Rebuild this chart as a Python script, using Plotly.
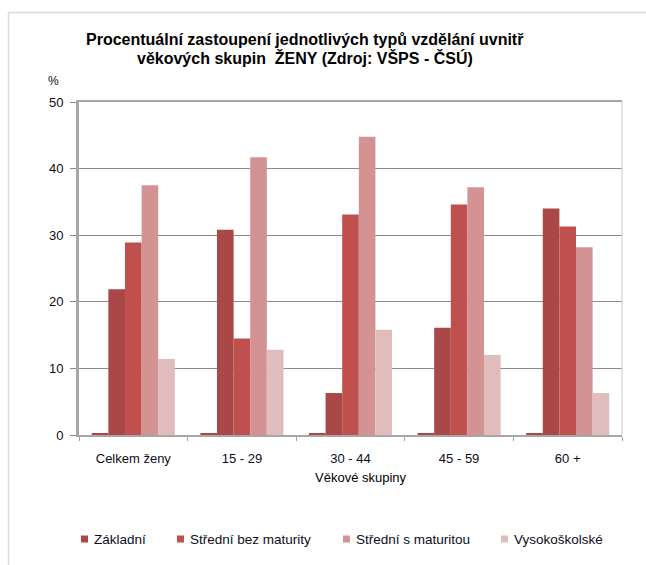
import plotly.graph_objects as go

# Age groups and the share (%) of each education level within them
categories = ["Celkem ženy", "15 - 29", "30 - 44", "45 - 59", "60 +"]
bez_vzdelani = [0.2, 0.3, 0.2, 0.2, 0.2]
zakladni = [21.9, 30.8, 6.3, 16.1, 34.0]
stredni_bez_maturity = [28.9, 14.5, 33.1, 34.6, 31.3]
stredni_s_maturitou = [37.5, 41.7, 44.8, 37.2, 28.2]
vysokoskolske = [11.4, 12.8, 15.8, 12.0, 6.3]

y_ticks = [0, 10, 20, 30, 40, 50]

title_lines = [
    "Procentuální zastoupení jednotlivých typů vzdělání uvnitř",
    "věkových skupin  ŽENY (Zdroj: VŠPS - ČSÚ)",
]

series = [
    ("Bez vzdělání", bez_vzdelani, "#A94846", False),
    ("Základní", zakladni, "#A94846", True),
    ("Střední bez maturity", stredni_bez_maturity, "#C0504D", True),
    ("Střední s maturitou", stredni_s_maturitou, "#D39392", True),
    ("Vysokoškolské", vysokoskolske, "#E0BCBC", True),
]

W, H = 646, 565
L, R, T, B = 79, 24, 102, 130
PW, PH = W - L - R, H - T - B
FONT = "Liberation Sans, Arial, sans-serif"
TXT = "#0d0d1a"


def px_x(x):
    return (x - L) / PW


def px_y(y):
    return (H - B - y) / PH


fig = go.Figure()
for name, vals, color, _ in series:
    fig.add_trace(go.Bar(
        name=name, x=categories, y=vals,
        marker=dict(color=color, line=dict(width=0)),
        showlegend=False,
    ))

fig.update_layout(
    width=W, height=H,
    margin=dict(l=L, r=R, t=T, b=B),
    paper_bgcolor="white", plot_bgcolor="white",
    barmode="group", bargap=0.235, bargroupgap=0,
    font=dict(family=FONT, size=13, color=TXT),
)

fig.update_xaxes(
    type="category",
    showline=True, linecolor="#A6A6A6", linewidth=2, mirror=True,
    ticks="outside", tickson="boundaries", ticklen=4, tickcolor="#A0A0A0",
    showgrid=False,
    tickfont=dict(family=FONT, size=13, color=TXT),
    ticklabelstandoff=10,
)
fig.update_yaxes(
    range=[0, 50], tickvals=y_ticks,
    showline=True, linecolor="#A6A6A6", linewidth=3,
    ticks="outside", ticklen=6, tickcolor="#868686",
    showgrid=True, gridcolor="#8C8C8C", gridwidth=1,
    zeroline=False,
    tickfont=dict(family=FONT, size=13, color=TXT),
    ticklabelstandoff=4,
)

# Right edge of the plot area and the outer chart frame
fig.add_shape(type="line", xref="paper", yref="paper", x0=1, x1=1, y0=0, y1=1,
              line=dict(color="#C8C8C8", width=1))
fig.add_shape(type="rect", xref="paper", yref="paper",
              x0=px_x(8.5), x1=px_x(700), y0=px_y(12.5), y1=px_y(600),
              line=dict(color="#D9D9D9", width=1.5), layer="below")

# Two-line bold title
for line, ty in zip(title_lines, [40, 58]):
    fig.add_annotation(text="<b>" + line + "</b>", xref="paper", yref="paper",
                       x=px_x(305), y=px_y(ty), xanchor="center", yanchor="middle",
                       showarrow=False,
                       font=dict(family=FONT, size=16, color="#000000"))

# Unit label and axis title
fig.add_annotation(text="%", xref="paper", yref="paper", x=px_x(53), y=px_y(81),
                   xanchor="center", yanchor="middle",
                   showarrow=False, font=dict(family=FONT, size=12, color=TXT))
fig.add_annotation(text="Věkové skupiny", xref="paper", yref="paper",
                   x=px_x(361), y=px_y(477), xanchor="center", yanchor="middle",
                   showarrow=False,
                   font=dict(family=FONT, size=13, color="#000000"))

# Legend row: small square key followed by the series name
legend_x = [81, 177, 343, 501]
legend_y = 539
for (name, _, color, shown), lx in zip([s for s in series if s[3]], legend_x):
    fig.add_shape(type="rect", xref="paper", yref="paper",
                  x0=px_x(lx), x1=px_x(lx + 7),
                  y0=px_y(legend_y + 3.5), y1=px_y(legend_y - 3.5),
                  fillcolor=color, line=dict(width=0))
    fig.add_annotation(text=name, xref="paper", yref="paper",
                       x=px_x(lx + 11), y=px_y(legend_y), xanchor="left",
                       yanchor="middle", showarrow=False,
                       font=dict(family=FONT, size=13.5, color=TXT))

fig.write_html("out.html")
